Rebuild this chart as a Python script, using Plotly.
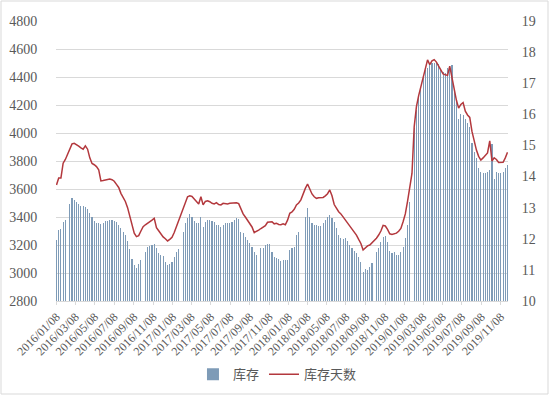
import pandas as pd
import plotly.graph_objects as go

# weekly dates
dates = pd.date_range("2016-01-08", periods=204, freq="7D")

# 库存 (left axis), None = no data that week
inventory = [
    3236, 3307, 3314, 3366, 3379, None, 3493, 3533, 3521, 3509,
    3490, 3480, 3479, 3474, 3455, 3426, 3402, 3371, 3360, 3355,
    3350, 3355, 3368, 3375, 3379, 3379, 3375, 3362, 3343, 3320,
    3295, 3271, 3230, 3170, 3100, 3057, 3034, 3064, 3090, None,
    3152, 3188, 3195, 3200, 3205, 3176, 3145, 3129, 3121, 3080,
    3055, 3062, 3081, 3112, 3152, 3169, None, 3295, 3355, 3391,
    3421, 3402, 3370, 3355, 3355, 3402, 3331, 3366, 3379, 3379,
    3373, 3366, 3343, 3343, 3331, 3343, 3355, 3359, 3359, 3366,
    3379, 3391, 3385, 3295, 3283, 3259, 3236, 3216, 3188, 3152,
    3129, None, 3176, 3182, 3200, 3207, 3205, 3152, 3112, 3105,
    3100, 3085, 3093, 3093, 3090, 3164, 3176, 3188, 3271, 3295,
    None, None, 3398, 3462, 3402, 3355, 3343, 3343, 3338, 3335,
    3359, 3379, 3402, 3414, 3391, 3366, 3319, 3270, 3248, 3241,
    3248, 3229, 3200, 3176, 3159, 3145, 3116, 3081, 3009, 3026,
    3021, 3041, 3069, None, 3152, 3176, 3224, 3259, 3264, 3225,
    3160, 3141, 3152, 3129, 3129, 3152, 3188, 3248, 3343, 3509,
    None, 4036, 4164, 4270, 4331, 4400, 4450, 4462, 4485, 4500,
    4502, 4500, 4493, 4450, 4438, 4426, 4462, 4450, 4486, 4307,
    4236, 4100, 4135, 4129, 4100, 4075, 4040, 3926, 3867, 3820,
    3748, 3724, 3712, 3717, 3724, 3736, 3920, 3670, 3724, 3717,
    3712, 3720, 3748, 3775,
]

# 库存天数 (right axis)
days = [
    13.73, 13.95, 13.95, 14.43, 14.55, 14.72, 14.88, 15.05, 15.07, 15.03,
    14.98, 14.92, 14.88, 14.99, 14.88, 14.60, 14.42, 14.38, 14.32, 14.22,
    13.86, 13.87, 13.89, 13.90, 13.92, 13.90, 13.85, 13.75, 13.65, 13.46,
    13.35, 13.20, 13.00, 12.70, 12.40, 12.18, 12.07, 12.10, 12.25, 12.39,
    12.45, 12.50, 12.53, 12.60, 12.66, 12.36, 12.26, 12.15, 12.06, 12.00,
    11.93, 11.98, 12.05, 12.20, 12.39, 12.60, 12.82, 13.00, 13.20, 13.35,
    13.38, 13.36, 13.28, 13.20, 13.12, 13.35, 13.09, 13.20, 13.22, 13.19,
    13.14, 13.12, 13.16, 13.10, 13.09, 13.14, 13.13, 13.12, 13.14, 13.15,
    13.16, 13.16, 13.13, 12.95, 12.80, 12.70, 12.60, 12.52, 12.38, 12.20,
    12.23, 12.28, 12.33, 12.37, 12.42, 12.53, 12.55, 12.55, 12.48, 12.50,
    12.46, 12.45, 12.48, 12.45, 12.60, 12.82, 12.86, 12.95, 13.09, 13.15,
    13.25, 13.46, 13.62, 13.76, 13.57, 13.44, 13.35, 13.30, 13.32, 13.33,
    13.33, 13.38, 13.45, 13.57, 13.38, 13.10, 12.96, 12.87, 12.80, 12.70,
    12.62, 12.52, 12.44, 12.30, 12.20, 12.12, 11.98, 11.85, 11.64, 11.72,
    11.77, 11.80, 11.87, 11.94, 12.02, 12.12, 12.25, 12.43, 12.41, 12.30,
    12.16, 12.14, 12.16, 12.18, 12.24, 12.33, 12.55, 12.80, 13.20, 13.60,
    14.10, 15.60, 16.25, 16.60, 16.90, 17.20, 17.45, 17.75, 17.60, 17.72,
    17.76, 17.68, 17.55, 17.40, 17.30, 17.27, 17.25, 17.55, 17.15, 16.80,
    16.45, 16.20, 16.32, 16.38, 16.10, 15.98, 15.90, 15.45, 15.10, 14.85,
    14.65, 14.53, 14.60, 14.68, 14.76, 15.15, 14.50, 14.60, 14.55, 14.45,
    14.45, 14.46, 14.60, 14.78,
]

tick_labels = [
    "2016/01/08", "2016/03/08", "2016/05/08", "2016/07/08", "2016/09/08", "2016/11/08",
    "2017/01/08", "2017/03/08", "2017/05/08", "2017/07/08", "2017/09/08", "2017/11/08",
    "2018/01/08", "2018/03/08", "2018/05/08", "2018/07/08", "2018/09/08", "2018/11/08",
    "2019/01/08", "2019/03/08", "2019/05/08", "2019/07/08", "2019/09/08", "2019/11/08",
]
tick_vals = [t.replace("/", "-") for t in tick_labels]

grey = "#595959"
num_font = dict(family="Liberation Serif", size=14, color=grey)

fig = go.Figure()
fig.add_trace(go.Bar(
    x=dates, y=inventory, name="库存",
    marker=dict(color="rgba(124,154,182,0.99)", line=dict(width=0)),
    width=3.6 * 24 * 3600 * 1000,
    yaxis="y",
))
fig.add_trace(go.Scatter(
    x=dates, y=days, name="库存天数", mode="lines",
    line=dict(color="#b3383d", width=1.5),
    connectgaps=True,
    yaxis="y2",
))

fig.update_layout(
    template="none",
    width=550, height=397,
    margin=dict(l=56, r=42, t=21, b=96, autoexpand=False),
    paper_bgcolor="white", plot_bgcolor="white",
    showlegend=True,
    legend=dict(orientation="h", x=0.49, xanchor="center", y=-0.262, yanchor="middle",
                font=dict(family="Noto Sans CJK SC", size=13, color=grey),
                itemwidth=30, tracegroupgap=0, bgcolor="rgba(0,0,0,0)"),
    xaxis=dict(
        type="date", automargin=False,
        range=["2016-01-06 12:00", "2019-11-30 12:00"],
        tickmode="array", tickvals=tick_vals, ticktext=tick_labels,
        tickangle=-45,
        tickfont=dict(family="Liberation Serif", size=12, color=grey),
        showgrid=False, showline=True, linecolor="#d9d9d9", linewidth=1,
        ticks="outside", ticklen=3, tickcolor="#d9d9d9",
    ),
    yaxis=dict(
        automargin=False,
        range=[2800, 4800], dtick=200, tick0=2800,
        showgrid=True, gridcolor="#d9d9d9", gridwidth=1,
        zeroline=False, showline=False,
        ticks="outside", ticklen=15, tickcolor="rgba(0,0,0,0)",
        tickfont=num_font,
    ),
    yaxis2=dict(
        automargin=False,
        range=[10, 19], dtick=1, tick0=10,
        overlaying="y", side="right",
        showgrid=False, zeroline=False, showline=False,
        ticks="outside", ticklen=10, tickcolor="rgba(0,0,0,0)",
        tickfont=num_font,
    ),
    bargap=0,
    shapes=[dict(
        type="rect", xref="paper", yref="paper",
        x0=(1 - 56) / 452, x1=(548 - 56) / 452,
        y0=(301 - 394) / 280, y1=(301 - 1) / 280,
        line=dict(color="#d9d9d9", width=1), fillcolor="rgba(0,0,0,0)", layer="below",
    )],
)

fig.write_html("out.html", config={"displayModeBar": False},
               post_script="document.body.style.margin='0px';")
